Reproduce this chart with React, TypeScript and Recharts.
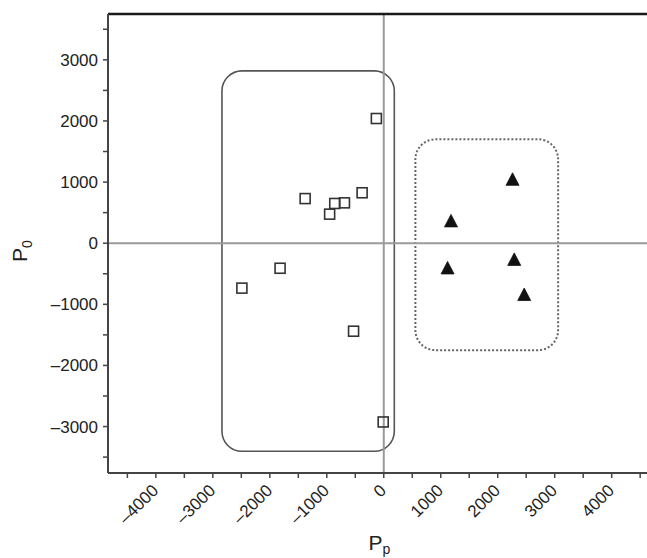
import { ScatterChart, Scatter, XAxis, YAxis, ReferenceLine, ReferenceArea } from "recharts";

// open squares (group 1)
const groupAx = [-130, -1380, -860, -690, -950, -380, -1820, -2490, -530, -10];
const groupAy = [2040, 730, 650, 660, 475, 825, -410, -735, -1440, -2925];
// filled triangles (group 2)
const groupBx = [2260, 1180, 1120, 2290, 2465];
const groupBy = [1045, 365, -405, -265, -840];

const xTicks = [-4500, -4000, -3500, -3000, -2500, -2000, -1500, -1000, -500, 0, 500, 1000, 1500, 2000, 2500, 3000, 3500, 4000, 4500];
const yTicks = [-3500, -3000, -2500, -2000, -1500, -1000, -500, 0, 500, 1000, 1500, 2000, 2500, 3000, 3500];

// cluster outlines [x1, x2, y1, y2]
const boxA = [-2840, 185, -3405, 2820];
const boxB = [555, 3060, -1750, 1700];

const dataA = groupAx.map((x, i) => ({ x, y: groupAy[i] }));
const dataB = groupBx.map((x, i) => ({ x, y: groupBy[i] }));

const FONT = "'Liberation Sans', Arial, Helvetica, sans-serif";
const AXIS = "#444";

const fmt = (v: number) => (v % 1000 === 0 ? (v < 0 ? "\u2013" + Math.abs(v) : String(v)) : "");

const Square = (p: any) => (
    <rect x={p.cx - 5} y={p.cy - 5} width={10} height={10} fill="none" stroke="#333" strokeWidth={1.6} />
);

const Triangle = (p: any) => (
    <polygon
        points={`${p.cx},${p.cy - 6.5} ${p.cx - 6.5},${p.cy + 6} ${p.cx + 6.5},${p.cy + 6}`}
        fill="#111"
        stroke="#111"
        strokeWidth={0.8}
    />
);

const XTick = (p: any) => {
    const v = p.payload.value;
    if (v % 1000 !== 0) return null;
    const x = p.x - 5;
    const y = p.y;
    return (
        <text x={x} y={y} dy="0.71em" textAnchor="end" transform={`rotate(-45, ${x}, ${y})`}
            fontSize={17} fill="#222" fontFamily={FONT}>
            {fmt(v)}
        </text>
    );
};

const RoundBox = (dashed: boolean) => (p: any) => (
    <rect x={p.x} y={p.y} width={p.width} height={p.height} rx={20} ry={20} fill="none"
        stroke={dashed ? "#666" : "#555"} strokeWidth={dashed ? 2 : 1.6}
        strokeDasharray={dashed ? "2 2" : undefined} />
);

const YTitle = () => {
    const x = 27;
    const y = 251;
    return (
        <text x={x} y={y} textAnchor="middle" transform={`rotate(-90, ${x}, ${y})`} fontSize={21} fill="#222" fontFamily={FONT}>
            P<tspan fontSize={14} dy={5}>0</tspan>
        </text>
    );
};

const XTitle = (p: any) => {
    const vb = p.viewBox;
    return (
        <text x={vb.x + vb.width / 2 + 2} y={550} textAnchor="middle" fontSize={21} fill="#222" fontFamily={FONT}>
            P<tspan fontSize={14} dy={4}>p</tspan>
        </text>
    );
};

export default function App() {
    return (
        <div style={{ position: "absolute", left: 0, top: 0, width: 647, height: 558, background: "#fff" }}>
            <ScatterChart width={647} height={558} margin={{ top: 14, right: 0, bottom: 0, left: 0 }}>
                <XAxis
                    type="number"
                    dataKey="x"
                    domain={[-4840, 4620]}
                    ticks={xTicks}
                    interval={0}
                    height={85}
                    tick={<XTick />}
                    tickSize={5}
                    tickMargin={5}
                    axisLine={{ stroke: AXIS, strokeWidth: 2 }}
                    tickLine={{ stroke: AXIS, strokeWidth: 1.5 }}
                    label={<XTitle />}
                />
                <YAxis
                    type="number"
                    dataKey="y"
                    domain={[-3760, 3750]}
                    ticks={yTicks}
                    interval={0}
                    width={108}
                    tickFormatter={fmt}
                    tick={{ fontSize: 17, fill: "#222", fontFamily: FONT }}
                    tickSize={5}
                    tickMargin={5}
                    axisLine={{ stroke: AXIS, strokeWidth: 2 }}
                    tickLine={{ stroke: AXIS, strokeWidth: 1.5 }}
                    label={<YTitle />}
                />
                <ReferenceArea x1={boxA[0]} x2={boxA[1]} y1={boxA[2]} y2={boxA[3]} shape={RoundBox(false)} ifOverflow="visible" />
                <ReferenceArea x1={boxB[0]} x2={boxB[1]} y1={boxB[2]} y2={boxB[3]} shape={RoundBox(true)} ifOverflow="visible" />
                <ReferenceLine x={0} stroke="#9a9a9a" strokeWidth={2} />
                <ReferenceLine y={0} stroke="#9a9a9a" strokeWidth={2} />
                <ReferenceLine y={3750} stroke="#1a1a1a" strokeWidth={2.5} />
                <Scatter data={dataA} shape={Square} isAnimationActive={false} />
                <Scatter data={dataB} shape={Triangle} isAnimationActive={false} />
            </ScatterChart>
        </div>
    );
}
